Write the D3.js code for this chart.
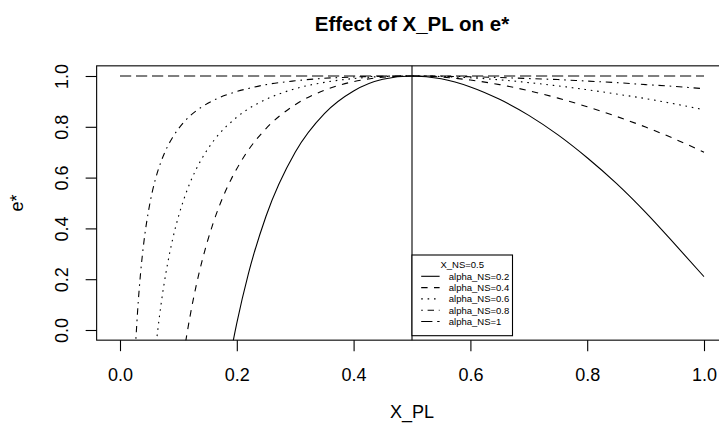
<!DOCTYPE html>
<html>
<head>
<meta charset="utf-8">
<script src="https://cdn.jsdelivr.net/npm/d3@7/dist/d3.min.js"></script>
<style>
  body { margin: 0; background: #fff; }
  svg { display: block; font-family: "Liberation Sans", Arial, Helvetica, sans-serif; }
</style>
</head>
<body>
<svg id="chart" width="719" height="432"></svg>
<script>
// ---- data
const xPL = [0, 0.02, 0.025, 0.03, 0.035, 0.04, 0.05, 0.06, 0.07, 0.08, 0.09, 0.1, 0.11, 0.12,
    0.13, 0.14, 0.16, 0.18, 0.19, 0.2, 0.22, 0.25, 0.3, 0.35, 0.4, 0.45, 0.5, 0.55, 0.6, 0.65,
    0.7, 0.75, 0.8, 0.85, 0.9, 0.95, 1.0];

const eAlpha02 = [null, null, null, null, null, null, null, null, null, null, null, null, null,
    null, null, null, null,
    -0.22, -0.089, 0.027, 0.223, 0.448, 0.70, 0.852, 0.941, 0.987, 1, 0.989, 0.957, 0.908,
    0.845, 0.768, 0.678, 0.577, 0.463, 0.338, 0.21];

const eAlpha04 = [null, null, null, null, null, null, null, null, null, null, null,
    -0.246, -0.082, 0.055, 0.170, 0.267, 0.424, 0.543, 0.592, 0.635, 0.709, 0.793, 0.887,
    0.944, 0.978, 0.995, 1, 0.996, 0.984, 0.966, 0.942, 0.913, 0.879, 0.841, 0.799, 0.752, 0.70];

const eAlpha06 = [null, null, null, null, null, null,
    -0.376, -0.10, 0.096, 0.242, 0.356, 0.446, 0.519, 0.58, 0.631, 0.674, 0.744, 0.797, 0.818,
    0.838, 0.871, 0.908, 0.95, 0.975, 0.990, 0.998, 1, 0.998, 0.993, 0.985, 0.974, 0.961, 0.946,
    0.929, 0.911, 0.890, 0.867];

const eAlpha08 = [null,
    -0.45, -0.14, 0.069, 0.218, 0.329, 0.484, 0.588, 0.661, 0.716, 0.758, 0.792, 0.820, 0.843,
    0.862, 0.878, 0.904, 0.924, 0.932, 0.939, 0.951, 0.966, 0.981, 0.991, 0.996, 0.999, 1,
    0.999, 0.997, 0.994, 0.990, 0.986, 0.980, 0.974, 0.966, 0.959, 0.950];

const eAlpha1 = [1, 1, 1, 1, 1, 1, 1, 1, 1, 1, 1, 1, 1, 1, 1, 1, 1, 1, 1, 1, 1, 1, 1, 1, 1, 1,
    1, 1, 1, 1, 1, 1, 1, 1, 1, 1, 1];

const seriesLabels = ['alpha_NS=0.2', 'alpha_NS=0.4', 'alpha_NS=0.6', 'alpha_NS=0.8', 'alpha_NS=1'];
const seriesValues = [eAlpha02, eAlpha04, eAlpha06, eAlpha08, eAlpha1];
const legendTitle = 'X_NS=0.5';
const xTicks = [0, 0.2, 0.4, 0.6, 0.8, 1.0];
const yTicks = [0, 0.2, 0.4, 0.6, 0.8, 1.0];
const xNS = 0.5;

// R line types: solid, dashed, dotted, dotdash, longdash
const dashes = [null, '6.4,6.4', '1.6,4.8', '1.6,4.8,6.4,4.8', '11.2,4.8'];

const svg = d3.select('#chart');

// ---- scales (R style: 4% padding on both axes)
const x = d3.scaleLinear().domain([0, 1]).range([120, 704]);
const y = d3.scaleLinear().domain([0, 1]).range([330, 76]);
const box = { x0: x(-0.04), x1: x(1.04), y0: y(1.04), y1: y(-0.04) };

svg.append('defs').append('clipPath').attr('id', 'plot-clip')
    .append('rect')
    .attr('x', box.x0).attr('y', box.y0)
    .attr('width', box.x1 - box.x0).attr('height', box.y1 - box.y0);

// ---- title
svg.append('text')
    .attr('x', (box.x0 + box.x1) / 2).attr('y', 31)
    .attr('text-anchor', 'middle')
    .attr('font-size', '20.5px').attr('font-weight', 'bold')
    .text('Effect of X_PL on e*');

// ---- curves
const line = d3.line()
    .defined(d => d[1] !== null)
    .x(d => x(d[0]))
    .y(d => y(d[1]))
    .curve(d3.curveMonotoneX);

const curves = svg.append('g').attr('clip-path', 'url(#plot-clip)');

seriesValues.forEach((vals, i) => {
    curves.append('path')
        .datum(xPL.map((v, j) => [v, vals[j]]))
        .attr('d', line)
        .attr('fill', 'none')
        .attr('stroke', '#000')
        .attr('stroke-width', 1.1)
        .attr('stroke-dasharray', dashes[i]);
});

// vertical reference line at X_NS
svg.append('line')
    .attr('x1', x(xNS)).attr('x2', x(xNS))
    .attr('y1', box.y0).attr('y2', box.y1)
    .attr('stroke', '#000').attr('stroke-width', 1.1);

// ---- box
svg.append('rect')
    .attr('x', box.x0).attr('y', box.y0)
    .attr('width', box.x1 - box.x0).attr('height', box.y1 - box.y0)
    .attr('fill', 'none').attr('stroke', '#000').attr('stroke-width', 1.1);

// ---- axes
svg.append('g')
    .attr('transform', `translate(0, ${box.y1})`)
    .call(d3.axisBottom(x).tickValues(xTicks).tickSize(11).tickPadding(17)
        .tickFormat(d3.format('.1f')))
    .call(g => g.select('.domain').remove())
    .call(g => g.selectAll('line').attr('stroke', '#000').attr('stroke-width', 1.1))
    .call(g => g.selectAll('text').attr('font-size', '18px').attr('fill', '#000')
        .attr('font-family', null));

svg.append('g')
    .attr('transform', `translate(${box.x0}, 0)`)
    .call(d3.axisLeft(y).tickValues(yTicks).tickSize(11).tickFormat(d3.format('.1f')))
    .call(g => g.select('.domain').remove())
    .call(g => g.selectAll('line').attr('stroke', '#000').attr('stroke-width', 1.1))
    .call(g => g.selectAll('text')
        .attr('font-size', '18px').attr('fill', '#000').attr('font-family', null)
        .attr('text-anchor', 'middle')
        .attr('transform', 'rotate(-90)')
        .attr('x', 0).attr('y', -(box.x0 - 68)).attr('dy', null));

// axis titles
svg.append('text')
    .attr('x', (box.x0 + box.x1) / 2).attr('y', 417.5)
    .attr('text-anchor', 'middle').attr('font-size', '18px')
    .text('X_PL');

svg.append('text')
    .attr('transform', `translate(23, ${(box.y0 + box.y1) / 2}) rotate(-90)`)
    .attr('text-anchor', 'middle').attr('font-size', '18px')
    .text('e*');

// ---- legend
const lg = { left: x(xNS), right: x(xNS) + 100.5, top: 255, bottom: 335.7 };
const rowH = 11.3;
const xchar = 9.2;

const legend = svg.append('g');
legend.append('rect')
    .attr('x', lg.left).attr('y', lg.top)
    .attr('width', lg.right - lg.left).attr('height', lg.bottom - lg.top)
    .attr('fill', '#fff').attr('stroke', '#000').attr('stroke-width', 1.1);

legend.append('text')
    .attr('x', (lg.left + lg.right) / 2).attr('y', 265)
    .attr('dy', '0.35em').attr('text-anchor', 'middle')
    .attr('font-size', '9.5px')
    .text(legendTitle);

const rows = legend.selectAll('.row')
    .data(seriesLabels)
    .join('g')
    .attr('class', 'row')
    .attr('transform', (d, i) => `translate(0, ${265 + rowH * (i + 1)})`);

rows.append('line')
    .attr('x1', lg.left + xchar).attr('x2', lg.left + 3 * xchar)
    .attr('stroke', '#000').attr('stroke-width', 1.1)
    .attr('stroke-dasharray', (d, i) => dashes[i]);

rows.append('text')
    .attr('x', lg.left + 4 * xchar)
    .attr('dy', '0.35em')
    .attr('font-size', '9.5px')
    .text(d => d);
</script>
</body>
</html>
